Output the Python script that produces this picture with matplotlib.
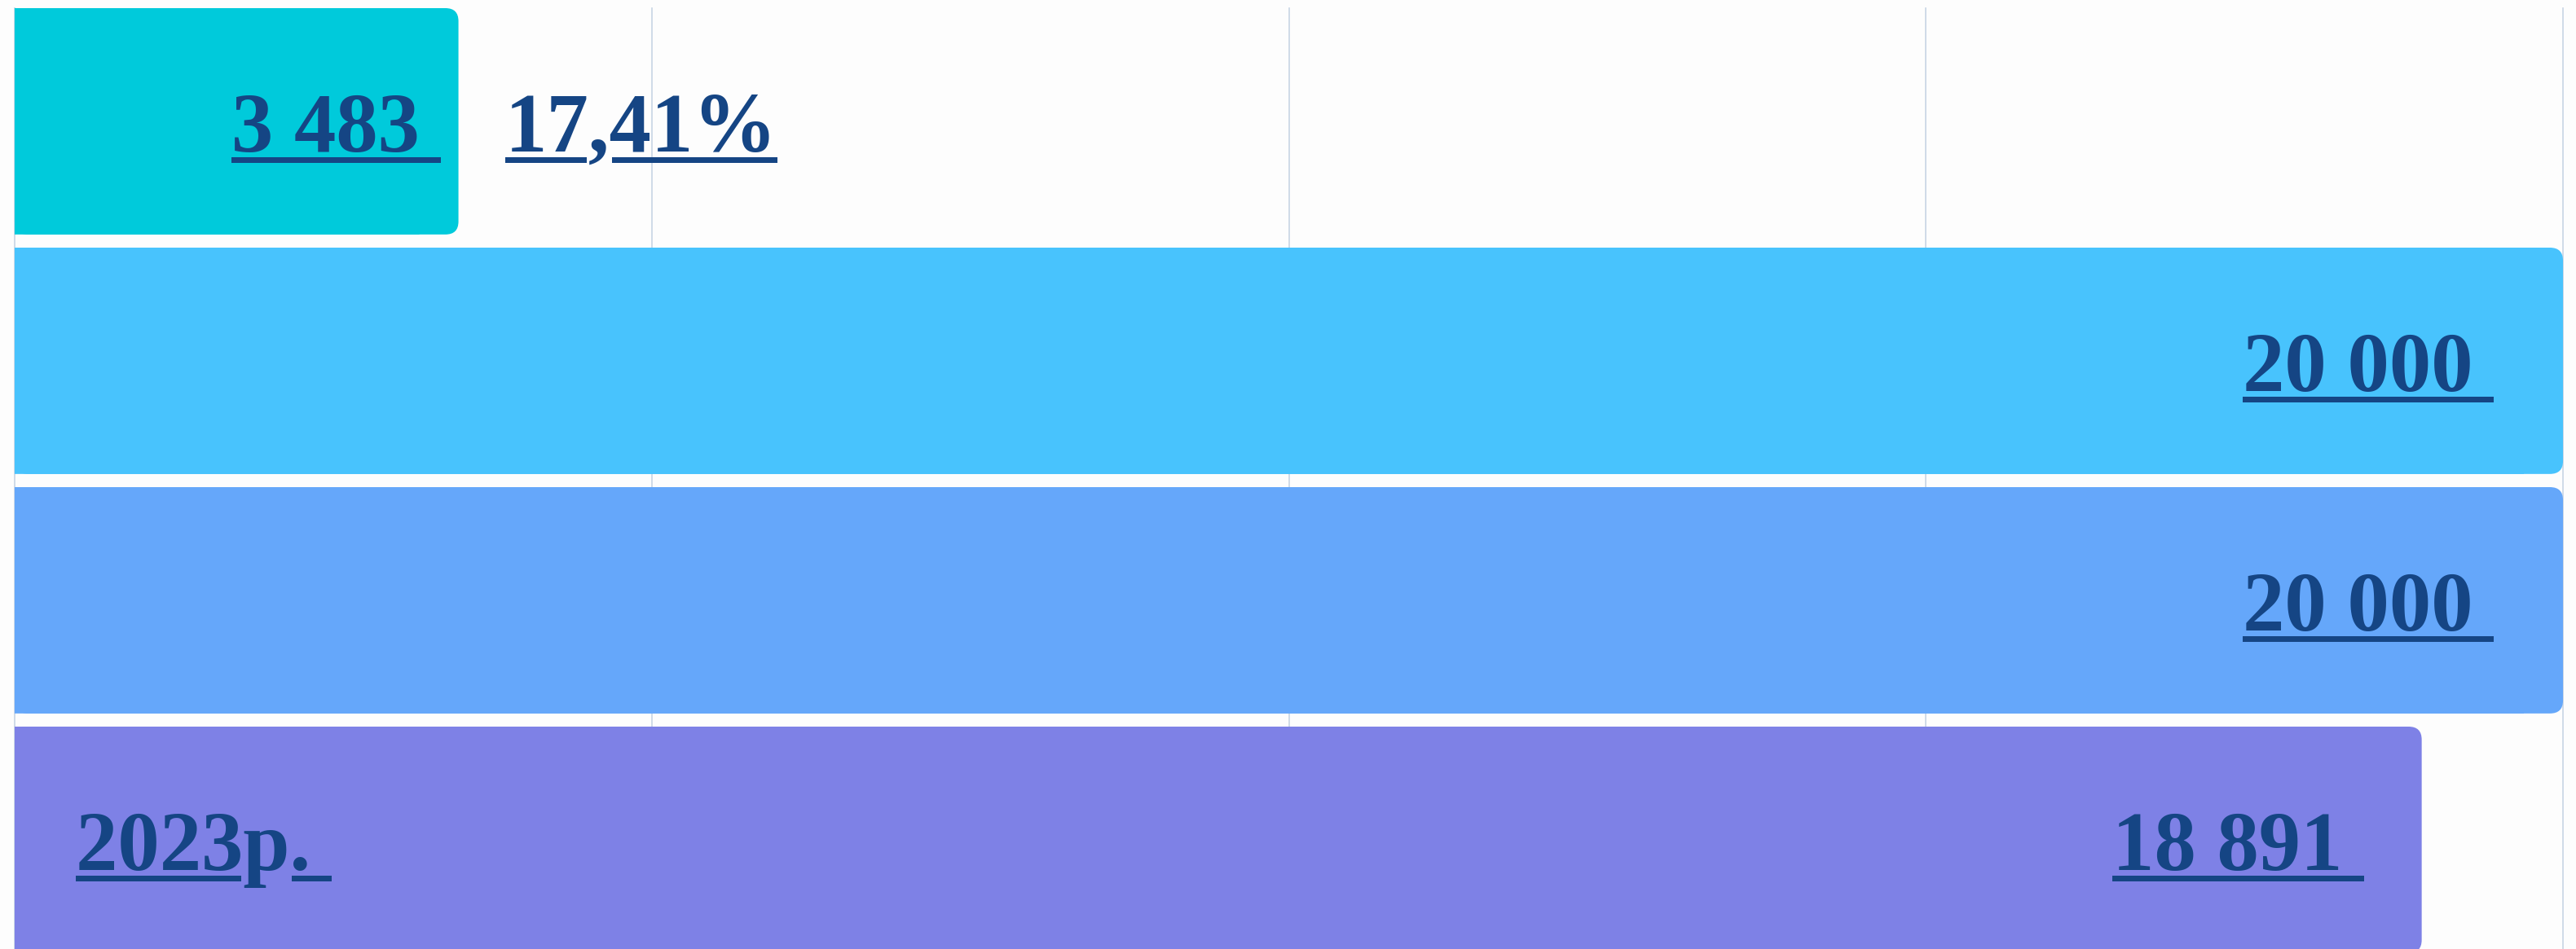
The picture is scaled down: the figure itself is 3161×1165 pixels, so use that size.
import matplotlib
matplotlib.use("Agg")
import matplotlib.pyplot as plt
from matplotlib.patches import FancyBboxPatch, Rectangle
from matplotlib.transforms import IdentityTransform, offset_copy

# ---- data ----
categories = ["", "", "", "2023р."]
values = [3483, 20000, 20000, 18891]
value_labels = ["3 483 ", "20 000 ", "20 000 ", "18 891 "]
share_labels = ["17,41%", "", "", ""]
grid_ticks = [0, 5000, 10000, 15000, 20000]

# ---- style ----
colors = ["#00CADB", "#48C3FD", "#65A7FA", "#7E81E6"]
text_color = "#154584"
grid_color = "#C8D5E4"
W, H, DPI = 3161, 1165, 100
FONT = "Liberation Serif"
FSIZE = 74
label_pad_px = [22, 85, 85, 71]
bar_h = 0.945

fig = plt.figure(figsize=(W / DPI, H / DPI), dpi=DPI, facecolor="#FDFDFD")
ax = fig.add_axes([0, 0, 1, 1])
ax.set_facecolor("#FDFDFD")
ax.set_xlim(-115, 20102)
ax.set_ylim(3.456, -0.5065)
ax.axis("off")

ypos = list(range(len(values)))
# grid lines
for g in grid_ticks:
    ax.plot([g, g], [-bar_h / 2, 3.6], color=grid_color, lw=1.2, zorder=0)

bars = ax.barh(ypos, values, height=bar_h, color=colors, zorder=1, linewidth=0)
# rounded right corners
rx = 16 * (20217 / W)
ry = 16 / 294
for b, c in zip(bars, colors):
    x0, y0, w, h = b.get_x(), b.get_y(), b.get_width(), b.get_height()
    b.set_width(w - 3 * rx)
    b.set_snap(False)
    p = FancyBboxPatch((x0, y0), w, h,
                       boxstyle=f"round,pad=0,rounding_size={rx}",
                       mutation_aspect=ry / rx, facecolor=c, edgecolor="none",
                       zorder=1)
    p.set_snap(False)
    ax.add_patch(p)

fig.canvas.draw()
renderer = fig.canvas.get_renderer()

def underline(t, x_start, baseline_y, s, gaps_chars=",рpq"):
    """draw underline under text t (display coords), skipping descenders"""
    bb = t.get_window_extent(renderer)
    total = bb.x1 - bb.x0
    segs = []
    cur = x_start
    for i, ch in enumerate(s):
        if ch in gaps_chars:
            tmp = ax.text(0, 0, s[:i], fontsize=FSIZE, family=FONT, fontweight="bold")
            w0 = tmp.get_window_extent(renderer).width if s[:i] else 0
            tmp.remove()
            tmp = ax.text(0, 0, s[:i + 1], fontsize=FSIZE, family=FONT, fontweight="bold")
            w1 = tmp.get_window_extent(renderer).width
            tmp.remove()
            segs.append((cur, x_start + w0 - 2))
            cur = x_start + w1 + 3
    segs.append((cur, x_start + total))
    for a, b_ in segs:
        fig.add_artist(Rectangle((a, baseline_y - 14), b_ - a, 7,
                                 transform=IdentityTransform(),
                                 facecolor=text_color, edgecolor="none", zorder=5))

def place(x_data, y_data, s, ha, dx_px, dy_px=-37):
    tr = offset_copy(ax.transData, fig=fig, x=dx_px, y=dy_px, units="dots")
    t = ax.text(x_data, y_data, s, fontsize=FSIZE, family=FONT, fontweight="bold",
                color=text_color, ha=ha, va="baseline", transform=tr, zorder=6)
    fig.canvas.draw()
    bb = t.get_window_extent(renderer)
    bx, by = ax.transData.transform((x_data, y_data))
    underline(t, bb.x0, by + dy_px, s)
    return t

for i, (v, lab) in enumerate(zip(values, value_labels)):
    place(v, i, lab, "right", -label_pad_px[i])
    if share_labels[i]:
        place(v, i, share_labels[i], "left", 57)
    if categories[i]:
        place(0, i, categories[i] + " ", "left", 75)

fig.savefig("out.png", dpi=DPI, facecolor=fig.get_facecolor())
